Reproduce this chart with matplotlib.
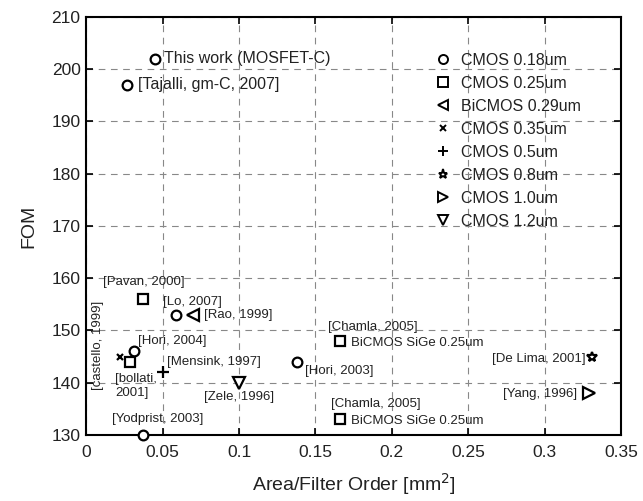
import matplotlib
matplotlib.use('Agg')
from matplotlib import pyplot as plt

plt.rcParams['font.family'] = ['Liberation Sans', 'DejaVu Sans']

# technology groups: legend label, marker, x values, y values
tech_names = ['CMOS 0.18um', 'CMOS 0.25um', 'BiCMOS 0.29um', 'CMOS 0.35um',
              'CMOS 0.5um', 'CMOS 0.8um', 'CMOS 1.0um', 'CMOS 1.2um']
tech_markers = ['o', 's', '<', 'x', '+', '*', '>', 'v']
tech_x = [[0.045, 0.027, 0.059, 0.031, 0.037, 0.138],
          [0.037, 0.029, 0.166, 0.166],
          [0.070],
          [0.022],
          [0.050],
          [0.331],
          [0.329],
          [0.100]]
tech_y = [[202, 197, 153, 146, 130, 144],
          [156, 144, 148, 133],
          [153],
          [145],
          [142],
          [145],
          [138],
          [140]]
tech_size = [7, 7, 8, 4.5, 9, 7, 8, 8]

# annotations: text, x, y, horizontal alignment, rotation, size
ann_text = ['This work (MOSFET-C)', '[Tajalli, gm-C, 2007]', '[Pavan, 2000]', '[Lo, 2007]',
            '[Rao, 1999]', '[Hori, 2004]', '[castello, 1999]', '[bollati,\n2001]',
            '[Mensink, 1997]', '[Zele, 1996]', '[Yodprist, 2003]', '[Hori, 2003]',
            '[Chamla, 2005]', 'BiCMOS SiGe 0.25um', '[Chamla, 2005]', 'BiCMOS SiGe 0.25um',
            '[De Lima, 2001]', '[Yang, 1996]']
ann_x = [0.051, 0.034, 0.011, 0.050, 0.077, 0.034, 0.008, 0.019,
         0.053, 0.100, 0.047, 0.143, 0.158, 0.173, 0.160, 0.173, 0.327, 0.321]
ann_y = [202, 197, 159.2, 155.4, 153, 147.9, 147.2, 139.4,
         144, 137.2, 133, 142.2, 150.6, 147.5, 136, 132.6, 144.6, 137.9]
ann_ha = ['left', 'left', 'left', 'left', 'left', 'left', 'center', 'left',
          'left', 'center', 'center', 'left', 'left', 'left', 'left', 'left', 'right', 'right']
ann_rot = [0, 0, 0, 0, 0, 0, 90, 0, 0, 0, 0, 0, 0, 0, 0, 0, 0, 0]
ann_size = [11.5, 11.5, 9.5, 9.5, 9.5, 9.5, 9.5, 9.5,
            9.5, 9.5, 9.5, 9.5, 9.5, 9.5, 9.5, 9.5, 9.5, 9.5]

fig = plt.figure(figsize=(6.43, 5.01), dpi=100)
ax = fig.add_axes([0.134, 0.132, 0.832, 0.834])

for i in range(len(tech_names)):
    ax.plot(tech_x[i], tech_y[i], linestyle='none', marker=tech_markers[i],
            markersize=tech_size[i], markerfacecolor='white', markeredgecolor='black',
            markeredgewidth=1.6, color='black', label=tech_names[i], clip_on=False, zorder=3)

for i in range(len(ann_text)):
    ax.text(ann_x[i], ann_y[i], ann_text[i], ha=ann_ha[i], va='center',
            rotation=ann_rot[i], fontsize=ann_size[i], color='#222222',
            linespacing=1.25, zorder=4)

ax.set_xlim(0, 0.35)
ax.set_ylim(130, 210)
ax.set_xticks([0, 0.05, 0.1, 0.15, 0.2, 0.25, 0.3, 0.35])
ax.set_xticklabels(['0', '0.05', '0.1', '0.15', '0.2', '0.25', '0.3', '0.35'])
ax.set_yticks(range(130, 211, 10))
ax.grid(True, linestyle=(0, (6, 5)), color='#888888', linewidth=0.8)
ax.tick_params(direction='in', top=True, right=True, length=5, width=1.2,
               labelsize=12.5, labelcolor='#222222')
ax.tick_params(axis='x', pad=7)
ax.tick_params(axis='y', pad=4)
for s in ax.spines.values():
    s.set_linewidth(1.5)

ax.set_xlabel('Area/Filter Order [mm$^2$]', fontsize=14, labelpad=8, color='#222222')
ax.set_ylabel('FOM', fontsize=14, labelpad=10, color='#222222')

leg = ax.legend(loc='upper left', bbox_to_anchor=(0.638, 0.933), frameon=False,
                fontsize=11.5, borderpad=0, handlelength=1.0, handletextpad=0.6,
                labelspacing=0.5, numpoints=1)
for t in leg.get_texts():
    t.set_color('#222222')
for h in leg.legend_handles:
    h.set_markersize(6.5)
    h.set_markeredgewidth(1.4)
leg.legend_handles[3].set_markersize(4.5)

plt.savefig('out.png', dpi=100)
